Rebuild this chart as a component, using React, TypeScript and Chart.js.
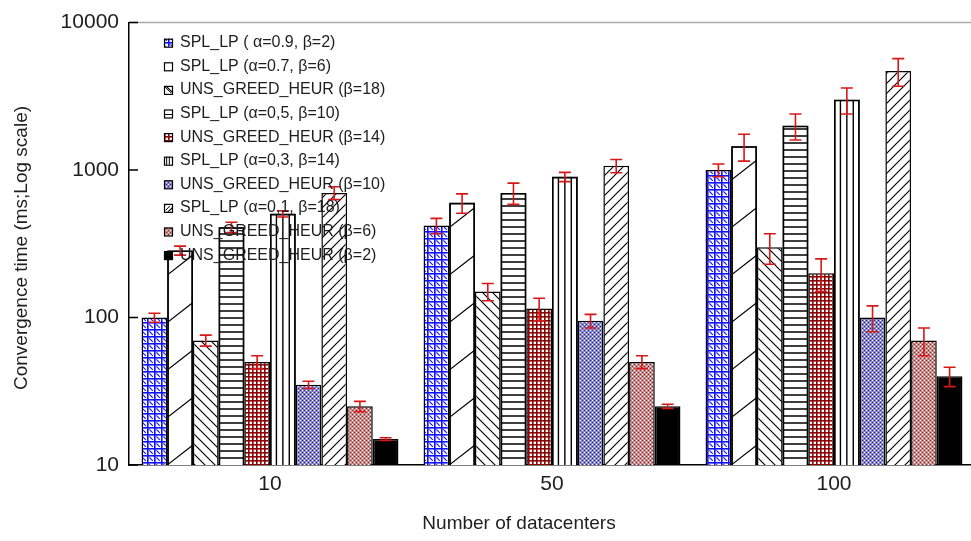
import React, { useEffect, useRef } from 'react';
import { Chart, registerables } from 'chart.js';

Chart.register(...registerables);

// ---------- data ----------
const categories = ['10', '50', '100'];
const yTickValues = [10, 100, 1000, 10000];

const seriesLabels = [
  'SPL_LP ( α=0.9, β=2)',
  'SPL_LP (α=0.7, β=6)',
  'UNS_GREED_HEUR (β=18)',
  'SPL_LP (α=0,5, β=10)',
  'UNS_GREED_HEUR (β=14)',
  'SPL_LP (α=0,3, β=14)',
  'UNS_GREED_HEUR (β=10)',
  'SPL_LP (α=0,1, β=18)',
  'UNS_GREED_HEUR (β=6)',
  'UNS_GREED_HEUR (β=2)',
];

const splA09B2 = [100, 420, 1000];
const splA07B6 = [285, 600, 1450];
const unsB18 = [70, 150, 300];
const splA05B10 = [410, 700, 2000];
const unsB14 = [50, 115, 200];
const splA03B14 = [505, 900, 3000];
const unsB10 = [35, 95, 100];
const splA01B18 = [700, 1070, 4700];
const unsB6 = [25, 50, 70];
const unsB2 = [15, 25, 40];

const errSplA09B2 = [7, 50, 100];
const errSplA07B6 = [20, 90, 300];
const errUnsB18 = [6, 20, 70];
const errSplA05B10 = [33, 115, 400];
const errUnsB14 = [5, 20, 50];
const errSplA03B14 = [25, 65, 600];
const errUnsB10 = [2, 10, 20];
const errSplA01B18 = [70, 110, 1000];
const errUnsB6 = [2, 5, 15];
const errUnsB2 = [0.3, 0.8, 6];

const seriesValues = [splA09B2, splA07B6, unsB18, splA05B10, unsB14, splA03B14, unsB10, splA01B18, unsB6, unsB2];
const seriesErrors = [errSplA09B2, errSplA07B6, errUnsB18, errSplA05B10, errUnsB14, errSplA03B14, errUnsB10, errSplA01B18, errUnsB6, errUnsB2];

// ---------- styles ----------
const fillKinds = ['bluegrid', 'sparse', 'backslash', 'hlines', 'redgrid', 'vlines', 'bluedots', 'slash', 'reddots', 'solid'];
const FONT = '"Liberation Sans", Arial, sans-serif';
const TEXT = '#1e1e1e';

function makeFill(ctx: CanvasRenderingContext2D, kind: string): any {
  if (kind === 'solid') return '#000';
  if (kind === 'sparse' || kind === 'hlines' || kind === 'vlines') return '#fff';
  let s = 4;
  if (kind === 'bluegrid') s = 7;
  if (kind === 'backslash' || kind === 'slash') s = 10;
  const t = document.createElement('canvas');
  t.width = s;
  t.height = s;
  const g = t.getContext('2d')!;
  g.fillStyle = '#fff';
  g.fillRect(0, 0, s, s);
  if (kind === 'bluegrid') {
    g.fillStyle = '#1010ff';
    g.fillRect(0, 0, s, 1.6);
    g.fillRect(0, 0, 1.6, s);
    g.strokeStyle = '#1010ff';
    g.lineWidth = 1.1;
    g.beginPath();
    g.moveTo(2.4, 2.4);
    g.lineTo(5.8, 5.8);
    g.stroke();
  } else if (kind === 'backslash' || kind === 'slash') {
    g.strokeStyle = '#000';
    g.lineWidth = 1.15;
    g.beginPath();
    if (kind === 'backslash') {
      g.moveTo(0, 0); g.lineTo(s, s);
      g.moveTo(-2, s - 2); g.lineTo(2, s + 2);
      g.moveTo(s - 2, -2); g.lineTo(s + 2, 2);
    } else {
      g.moveTo(0, s); g.lineTo(s, 0);
      g.moveTo(-2, 2); g.lineTo(2, -2);
      g.moveTo(s - 2, s + 2); g.lineTo(s + 2, s - 2);
    }
    g.stroke();
  } else if (kind === 'redgrid') {
    g.fillStyle = '#8a0606';
    g.fillRect(0, 0, s, 1.6);
    g.fillRect(0, 0, 1.6, s);
  } else if (kind === 'bluedots' || kind === 'reddots') {
    const blue = kind === 'bluedots';
    g.fillStyle = blue ? '#8686c8' : '#c88c8c';
    g.fillRect(0, 0, s, s);
    g.fillStyle = '#fff';
    g.fillRect(0, 0, 1, 1);
    g.fillRect(2, 2, 1, 1);
    g.fillStyle = blue ? '#30308c' : '#8a2a2a';
    g.fillRect(2, 0, 1, 1);
    g.fillRect(0, 2, 1, 1);
  }
  return ctx.createPattern(t, 'repeat');
}

function makeDecor(fills: any[]) {
  return {
    id: 'decor',
    afterDatasetsDraw(chart: any) {
      const { ctx, scales } = chart;
      const ys = scales.y;
      chart.data.datasets.forEach((_ds: any, di: number) => {
        const kind = fillKinds[di];
        const meta = chart.getDatasetMeta(di);
        meta.data.forEach((el: any) => {
          const p = el.getProps(['x', 'y', 'base', 'width'], true);
          const left = p.x - p.width / 2;
          const top = p.y;
          const base = p.base;
          if (kind === 'sparse' || kind === 'hlines' || kind === 'vlines') {
            ctx.save();
            ctx.beginPath();
            ctx.rect(left, top, p.width, base - top);
            ctx.clip();
            ctx.strokeStyle = '#000';
            ctx.lineWidth = kind === 'sparse' ? 1.1 : 1.4;
            ctx.beginPath();
            if (kind === 'sparse') {
              for (let yy = base; yy > top - 30; yy -= 47.5) {
                ctx.moveTo(left, yy);
                ctx.lineTo(left + p.width, yy - 20);
              }
            } else if (kind === 'hlines') {
              for (let yy = base - 7; yy > top; yy -= 7) {
                ctx.moveTo(left, yy);
                ctx.lineTo(left + p.width, yy);
              }
            } else {
              for (let j = 1; j <= 3; j++) {
                const xx = left + (p.width * j) / 4;
                ctx.moveTo(xx, top);
                ctx.lineTo(xx, base);
              }
            }
            ctx.stroke();
            ctx.restore();
            ctx.save();
            ctx.strokeStyle = '#000';
            ctx.lineWidth = 1.6;
            ctx.beginPath();
            ctx.moveTo(left + 0.8, base);
            ctx.lineTo(left + 0.8, top + 0.8);
            ctx.lineTo(left + p.width - 0.8, top + 0.8);
            ctx.lineTo(left + p.width - 0.8, base);
            ctx.stroke();
            ctx.restore();
          }
        });
      });
      // error bars
      ctx.save();
      ctx.strokeStyle = '#d81818';
      ctx.lineWidth = 1.6;
      chart.data.datasets.forEach((_ds: any, di: number) => {
        const meta = chart.getDatasetMeta(di);
        meta.data.forEach((el: any, j: number) => {
          const p = el.getProps(['x'], true);
          const v = seriesValues[di][j];
          const e = seriesErrors[di][j];
          const yHi = ys.getPixelForValue(v + e);
          const yLo = ys.getPixelForValue(v - e);
          ctx.beginPath();
          ctx.moveTo(p.x, yHi);
          ctx.lineTo(p.x, yLo);
          ctx.moveTo(p.x - 6, yHi);
          ctx.lineTo(p.x + 6, yHi);
          ctx.moveTo(p.x - 6, yLo);
          ctx.lineTo(p.x + 6, yLo);
          ctx.stroke();
        });
      });
      ctx.restore();
    },
    afterDraw(chart: any) {
      const { ctx, chartArea, scales } = chart;
      const ys = scales.y;
      ctx.save();
      // top frame line
      ctx.strokeStyle = '#aaaaaa';
      ctx.lineWidth = 1.5;
      ctx.beginPath();
      ctx.moveTo(chartArea.left, chartArea.top);
      ctx.lineTo(chartArea.right, chartArea.top);
      ctx.stroke();
      // inward ticks
      ctx.strokeStyle = '#000';
      ctx.lineWidth = 1.5;
      ctx.beginPath();
      yTickValues.forEach((v) => {
        const py = ys.getPixelForValue(v);
        ctx.moveTo(chartArea.left, py);
        ctx.lineTo(chartArea.left + 9, py);
      });
      ctx.stroke();
      // legend
      ctx.font = `16px ${FONT}`;
      ctx.textBaseline = 'middle';
      ctx.textAlign = 'left';
      seriesLabels.forEach((label, i) => {
        const cy = 42.7 + i * 23.6;
        const sx = 164;
        const sy = cy - 4;
        const sw = 8;
        const kind = fillKinds[i];
        ctx.fillStyle = fills[i];
        ctx.fillRect(sx, sy, sw, sw);
        ctx.strokeStyle = '#000';
        ctx.lineWidth = 1;
        ctx.beginPath();
        if (kind === 'backslash') {
          ctx.moveTo(sx + 1, sy + 1); ctx.lineTo(sx + sw - 1, sy + sw - 1);
        } else if (kind === 'slash') {
          ctx.moveTo(sx + 1.5, sy + sw - 1.5); ctx.lineTo(sx + sw - 2, sy + 2);
        } else if (kind === 'hlines') {
          ctx.moveTo(sx, sy + sw / 2 + 1); ctx.lineTo(sx + sw, sy + sw / 2 + 1);
        } else if (kind === 'vlines') {
          ctx.moveTo(sx + sw / 3, sy); ctx.lineTo(sx + sw / 3, sy + sw);
          ctx.moveTo(sx + (2 * sw) / 3, sy); ctx.lineTo(sx + (2 * sw) / 3, sy + sw);
        }
        ctx.stroke();
        ctx.lineWidth = 1.2;
        ctx.strokeRect(sx + 0.5, sy + 0.5, sw, sw);
        ctx.fillStyle = TEXT;
        ctx.fillText(label, 180, cy);
      });
      // axis titles
      ctx.fillStyle = TEXT;
      ctx.font = `19px ${FONT}`;
      ctx.textAlign = 'center';
      ctx.textBaseline = 'middle';
      ctx.fillText('Number of datacenters', 519, 524);
      ctx.translate(22, 248);
      ctx.rotate(-Math.PI / 2);
      ctx.fillText('Convergence time (ms;Log scale)', 0, 0);
      ctx.restore();
    },
  };
}

export default function App() {
  const ref = useRef<HTMLCanvasElement>(null);
  useEffect(() => {
    const canvas = ref.current!;
    const ctx = canvas.getContext('2d')!;
    const fills = fillKinds.map((k) => makeFill(ctx, k));
    const chart = new Chart(canvas, {
      type: 'bar',
      data: {
        labels: categories,
        datasets: seriesLabels.map((label, i) => ({
          label,
          data: seriesValues[i],
          backgroundColor: fills[i],
          borderColor: '#000',
          borderWidth: 1.5,
          borderSkipped: 'bottom',
          categoryPercentage: 0.911,
          barPercentage: 1,
        })),
      },
      options: {
        responsive: false,
        animation: false,
        layout: { padding: { top: 16, right: 1, left: 0, bottom: 0 } },
        plugins: { legend: { display: false }, tooltip: { enabled: false } },
        scales: {
          x: {
            type: 'category',
            grid: { display: false, drawTicks: false },
            border: { display: true, color: '#000', width: 1.5 },
            ticks: { font: { family: FONT, size: 21 }, color: TEXT, padding: 7 },
            afterFit: (s: any) => {
              s.height = 76;
            },
          },
          y: {
            type: 'logarithmic',
            min: 10,
            max: 10000,
            afterBuildTicks: (s: any) => {
              s.ticks = yTickValues.map((v) => ({ value: v }));
            },
            grid: { display: false, drawTicks: false },
            border: { display: true, color: '#000', width: 1.5 },
            ticks: {
              font: { family: FONT, size: 21 },
              color: TEXT,
              padding: 10,
              callback: (v: any) => String(v),
            },
            afterFit: (s: any) => {
              s.width = 129;
            },
          },
        },
      } as any,
      plugins: [makeDecor(fills)],
    });
    return () => chart.destroy();
  }, []);
  return (
    <div
      style={{
        position: 'absolute',
        left: 0,
        top: 0,
        width: 971,
        height: 541,
        overflow: 'hidden',
        background: '#fff',
      }}
    >
      <canvas ref={ref} width={976} height={541} style={{ display: 'block' }} />
    </div>
  );
}
